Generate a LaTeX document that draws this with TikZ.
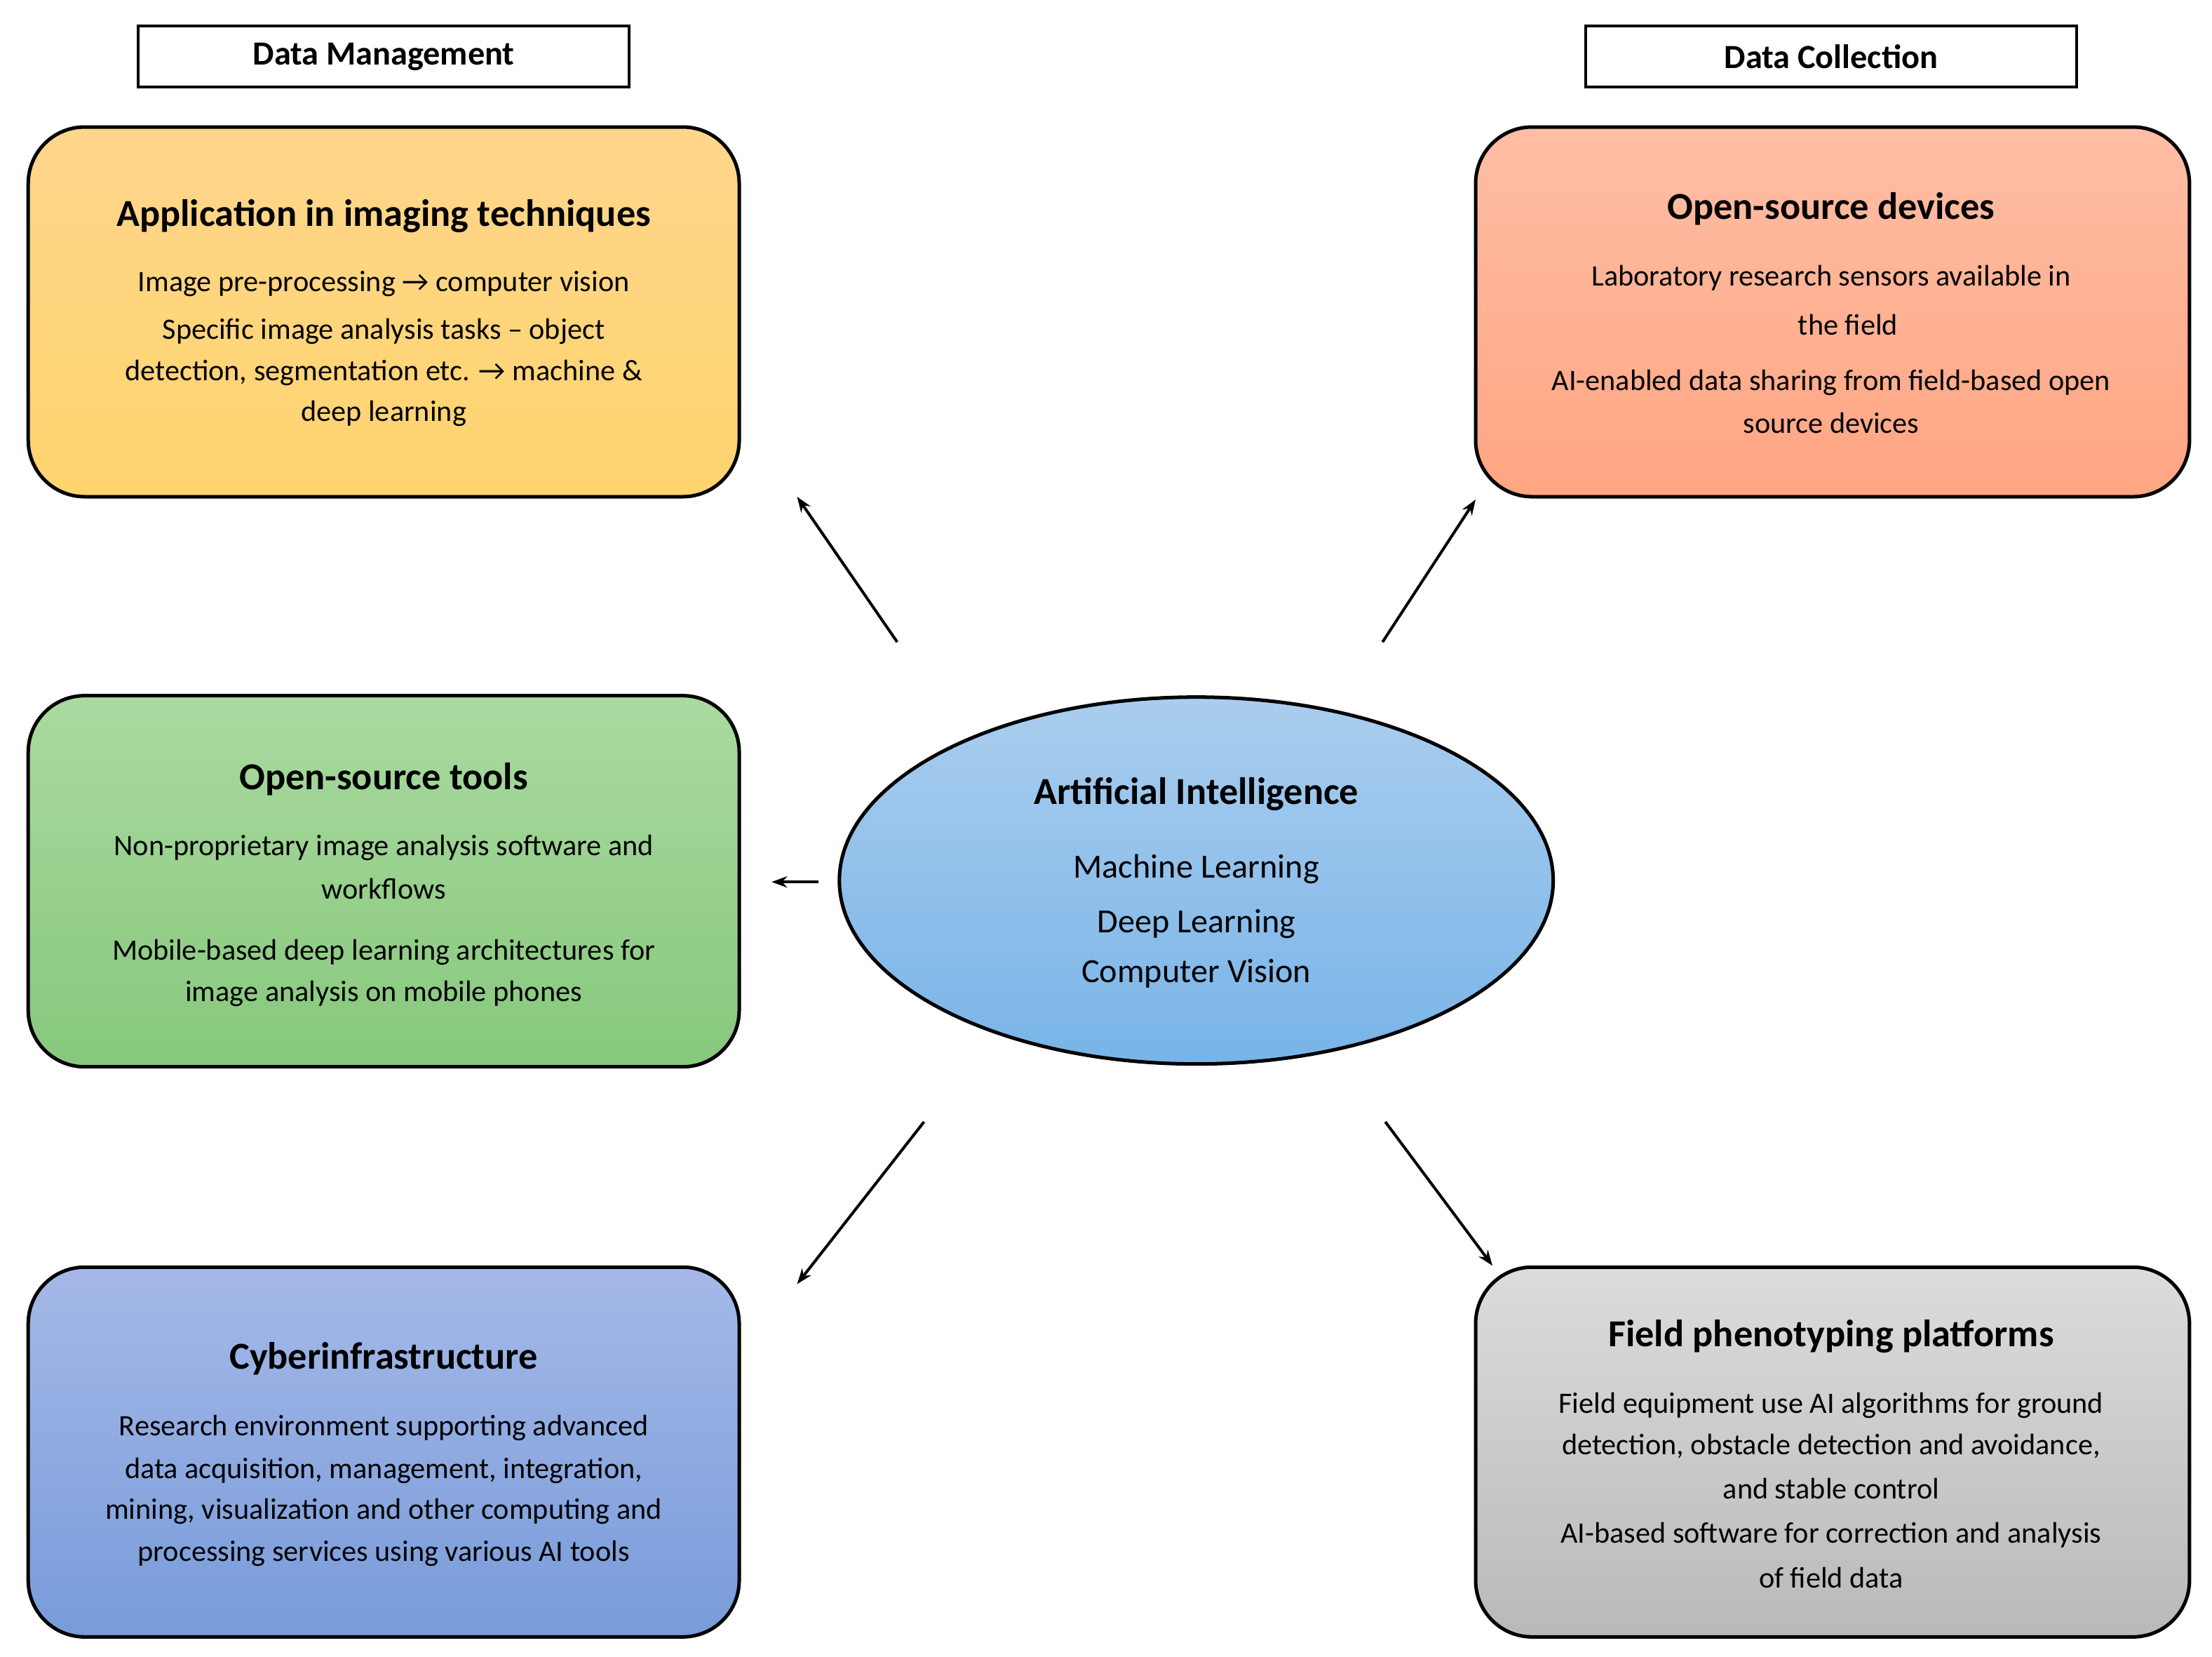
\documentclass[tikz,border=0pt]{standalone}
\usepackage{fontspec}
\setmainfont{Carlito}
\usetikzlibrary{shapes.geometric,arrows.meta}
\begin{document}
\begin{tikzpicture}[x=1pt,y=-1pt,
 box/.style={draw=black,line width=2.5pt,rounded corners=40pt},
 hdr/.style={draw=black,line width=2pt,fill=white,minimum width=348pt,minimum height=43pt,font=\fontsize{24}{28}\selectfont\bfseries},
 ttl/.style={font=\fontsize{27}{32}\selectfont\bfseries},
 bt/.style={font=\fontsize{21}{25}\selectfont},
 et/.style={font=\fontsize{24}{28}\selectfont},
 arr/.style={-{Stealth[length=11pt,width=8pt]},line width=2pt}]
\useasboundingbox (0,0) rectangle (1568,1174);
\node[hdr] (h1) at (272,40) {Data Management};
\node[hdr] (h2) at (1298,40) {Data Collection};
\shade[box,top color=yellow!20!orange!40!white!95!black,bottom color=orange!20!yellow!60!white,top color={rgb,255:red,255;green,214;blue,140},bottom color={rgb,255:red,255;green,212;blue,110}] (20,90) rectangle (524,352);
\shade[box,top color={rgb,255:red,255;green,190;blue,165},bottom color={rgb,255:red,255;green,165;blue,130}] (1046,90) rectangle (1552,352);
\shade[box,top color={rgb,255:red,170;green,218;blue,160},bottom color={rgb,255:red,135;green,200;blue,125}] (20,493) rectangle (524,756);
\shade[box,top color={rgb,255:red,165;green,185;blue,232},bottom color={rgb,255:red,120;green,155;blue,218}] (20,898) rectangle (524,1160);
\shade[box,top color={rgb,255:red,220;green,220;blue,220},bottom color={rgb,255:red,185;green,185;blue,185}] (1046,898) rectangle (1552,1160);
\node[ellipse,draw=black,line width=2.5pt,minimum width=506pt,minimum height=260pt,top color={rgb,255:red,170;green,205;blue,238},bottom color={rgb,255:red,120;green,180;blue,232}] (ai) at (848,624) {};
% yellow
\node[ttl] (y0) at (272,153) {Application in imaging techniques};
\node[bt] (y1) at (272,201) {Image pre-processing → computer vision};
\node[bt] (y2) at (272,235) {Specific image analysis tasks – object};
\node[bt] (y3) at (272,264) {detection, segmentation etc. → machine \&};
\node[bt] (y4) at (272,293) {deep learning};
% orange
\node[ttl] (o0) at (1298,148) {Open-source devices};
\node[bt] (o1) at (1298,197) {Laboratory research sensors available in};
\node[bt] (o2) at (1310,230) {the field};
\node[bt] (o3) at (1298,271) {AI-enabled data sharing from field-based open};
\node[bt] (o4) at (1298,300) {source devices};
% green
\node[ttl] (g0) at (272,552) {Open-source tools};
\node[bt] (g1) at (272,601) {Non-proprietary image analysis software and};
\node[bt] (g2) at (272,630) {workflows};
\node[bt] (g3) at (272,675) {Mobile-based deep learning architectures for};
\node[bt] (g4) at (272,704) {image analysis on mobile phones};
% ellipse
\node[ttl] (e0) at (848,563) {Artificial Intelligence};
\node[et] (e1) at (848,616) {Machine Learning};
\node[et] (e2) at (848,655) {Deep Learning};
\node[et] (e3) at (848,690) {Computer Vision};
% blue
\node[ttl] (b0) at (272,963) {Cyberinfrastructure};
\node[bt] (b1) at (272,1012) {Research environment supporting advanced};
\node[bt] (b2) at (272,1042) {data acquisition, management, integration,};
\node[bt] (b3) at (272,1071) {mining, visualization and other computing and};
\node[bt] (b4) at (272,1101) {processing services using various AI tools};
% gray
\node[ttl] (f0) at (1298,947) {Field phenotyping platforms};
\node[bt] (f1) at (1298,996) {Field equipment use AI algorithms for ground};
\node[bt] (f2) at (1298,1025) {detection, obstacle detection and avoidance,};
\node[bt] (f3) at (1298,1055) {and stable control};
\node[bt] (f4) at (1298,1088) {AI-based software for correction and analysis};
\node[bt] (f5) at (1298,1118) {of field data};
% arrows
\coordinate (a1s) at (636,455); \coordinate (a1e) at (565,352);
\coordinate (a2s) at (980,455); \coordinate (a2e) at (1046,354);
\coordinate (a3s) at (580,625); \coordinate (a3e) at (547,625);
\coordinate (a4s) at (655,795); \coordinate (a4e) at (565,910);
\coordinate (a5s) at (982,795); \coordinate (a5e) at (1058,897);
\draw[arr] (a1s) -- (a1e);
\draw[arr] (a2s) -- (a2e);
\draw[arr] (a3s) -- (a3e);
\draw[arr] (a4s) -- (a4e);
\draw[arr] (a5s) -- (a5e);
\end{tikzpicture}
\end{document}
